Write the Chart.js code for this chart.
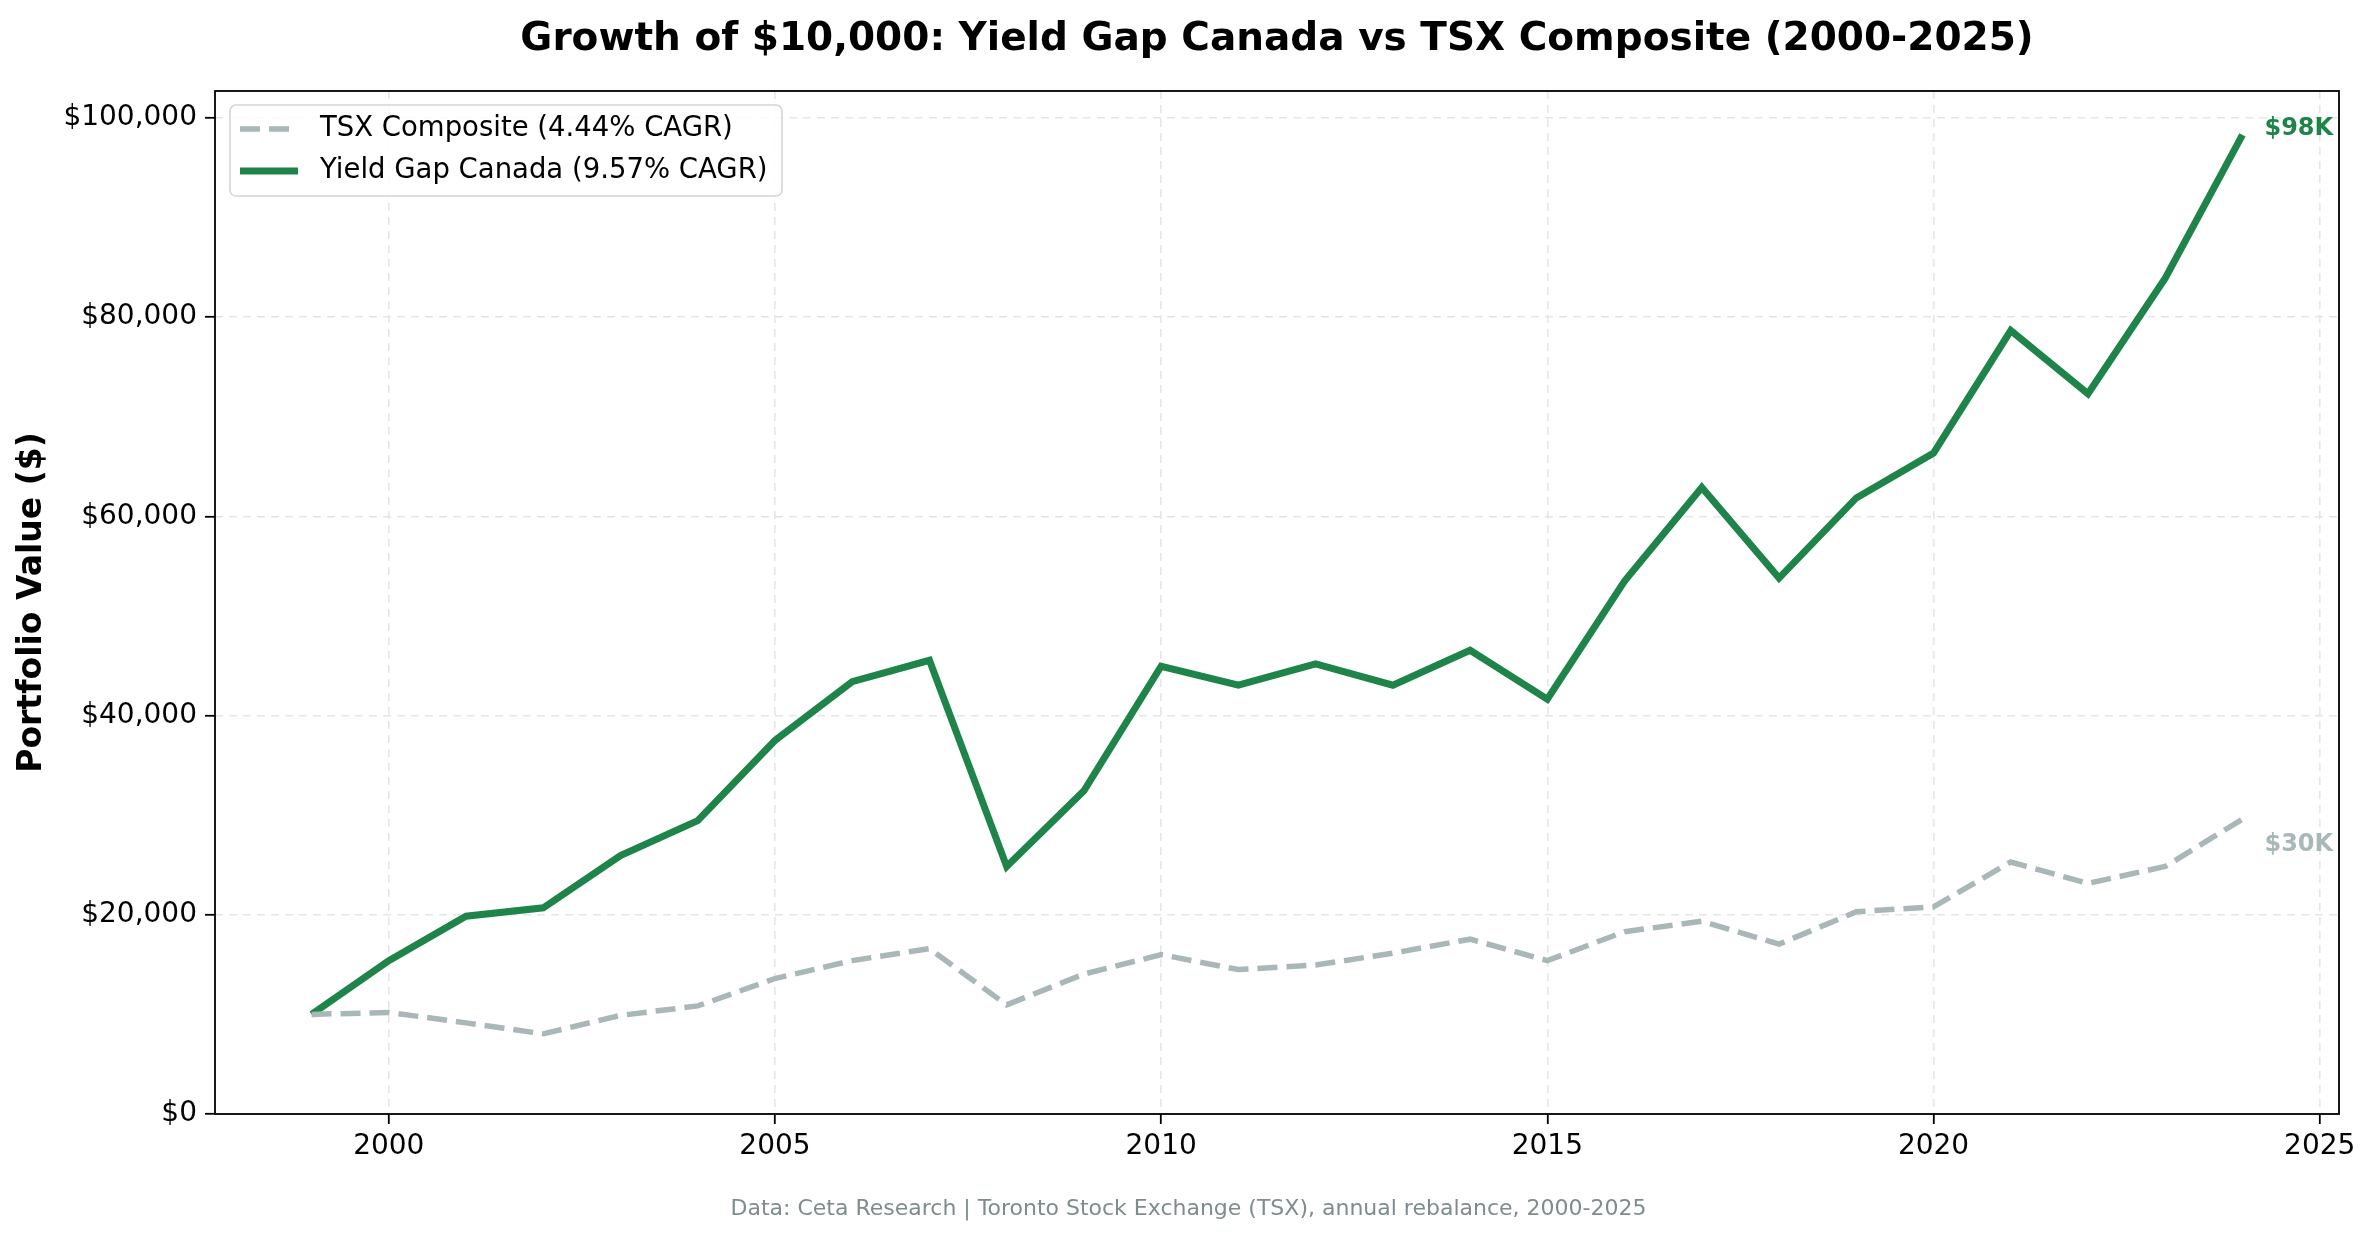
<!DOCTYPE html>
<html>
<head>
<meta charset="utf-8">
<script src="https://cdn.jsdelivr.net/npm/chart.js@4/dist/chart.umd.min.js"></script>
<style>
  html, body { margin: 0; padding: 0; background: #fff; }
  canvas { display: block; }
</style>
</head>
<body>
<canvas id="growthChart" width="2377" height="1239"></canvas>
<script>
// values
const years = [1999, 2000, 2001, 2002, 2003, 2004, 2005, 2006, 2007, 2008, 2009, 2010, 2011,
  2012, 2013, 2014, 2015, 2016, 2017, 2018, 2019, 2020, 2021, 2022, 2023, 2024];
const yieldGap = [10000, 15400, 19850, 20700, 25950, 29450, 37500, 43400, 45550, 24850, 32450, 44950,
  43050, 45200, 43050, 46550, 41650, 53500, 62900, 53800, 61850, 66350, 78650, 72300, 83900, 98300];
const tsx = [10000, 10200, 9150, 8050, 9900, 10850, 13600, 15400, 16600, 10950, 14050, 16000,
  14500, 14950, 16150, 17550, 15400, 18300, 19350, 17050, 20300, 20800, 25300, 23150, 24850, 29600];
const seriesLabels = ['TSX Composite (4.44% CAGR)', 'Yield Gap Canada (9.57% CAGR)'];
const endLabels = ['$30K', '$98K'];
const xTicks = [2000, 2005, 2010, 2015, 2020, 2025];
const yTicks = [0, 20000, 40000, 60000, 80000, 100000];

const GREEN = '#1e8449';
const GREY = '#aab7b8';
const FONT = "'DejaVu Sans', sans-serif";

const toPoints = vals => vals.map((v, i) => ({ x: years[i], y: v }));

// title, footer, frame, legend box and end labels
const decor = {
  id: 'decor',
  afterDraw(chart) {
    const { ctx, chartArea: a } = chart;
    ctx.save();

    ctx.fillStyle = '#000';
    ctx.font = `bold 39px ${FONT}`;
    ctx.textAlign = 'center';
    ctx.textBaseline = 'middle';
    ctx.fillText('Growth of $10,000: Yield Gap Canada vs TSX Composite (2000-2025)', (a.left + a.right) / 2, 40);

    ctx.fillStyle = '#7f8c8d';
    ctx.font = `22px ${FONT}`;
    ctx.fillText('Data: Ceta Research | Toronto Stock Exchange (TSX), annual rebalance, 2000-2025', chart.width / 2, 1209);

    ctx.strokeStyle = '#000';
    ctx.lineWidth = 1.8;
    ctx.strokeRect(a.left, a.top, a.right - a.left, a.bottom - a.top);

    // end-of-line value labels
    ctx.font = `bold 24px ${FONT}`;
    ctx.textAlign = 'left';
    const xs = chart.scales.x, ys = chart.scales.y;
    const last = years.length - 1;
    const offs = [26, -6];
    chart.data.datasets.forEach((ds, i) => {
      const px = xs.getPixelForValue(years[last]) + 22;
      const py = ys.getPixelForValue(ds.data[last].y) + offs[i];
      ctx.fillStyle = ds.borderColor;
      ctx.fillText(endLabels[i], px, py);
    });

    // legend
    const bx = a.left + 15, by = a.top + 14, bw = 552, bh = 91;
    ctx.beginPath();
    ctx.roundRect(bx, by, bw, bh, 6);
    ctx.fillStyle = 'rgba(255,255,255,0.85)';
    ctx.fill();
    ctx.strokeStyle = '#d5d5d5';
    ctx.lineWidth = 1.6;
    ctx.stroke();
    ctx.font = `27.5px ${FONT}`;
    ctx.textBaseline = 'middle';
    chart.data.datasets.forEach((ds, i) => {
      const ly = by + 24 + i * 42;
      ctx.beginPath();
      ctx.setLineDash(ds.borderDash || []);
      ctx.strokeStyle = ds.borderColor;
      ctx.lineWidth = ds.borderWidth;
      ctx.moveTo(bx + 10, ly);
      ctx.lineTo(bx + 68, ly);
      ctx.stroke();
      ctx.setLineDash([]);
      ctx.fillStyle = '#000';
      ctx.fillText(ds.label, bx + 90, ly);
    });

    ctx.restore();
  }
};

new Chart(document.getElementById('growthChart'), {
  type: 'line',
  data: {
    datasets: [
      {
        label: seriesLabels[0],
        data: toPoints(tsx),
        borderColor: GREY,
        borderWidth: 5.5,
        borderDash: [20, 9],
        pointRadius: 0,
        tension: 0,
        fill: false
      },
      {
        label: seriesLabels[1],
        data: toPoints(yieldGap),
        borderColor: GREEN,
        borderWidth: 7,
        pointRadius: 0,
        tension: 0,
        fill: false
      }
    ]
  },
  options: {
    responsive: false,
    animation: false,
    devicePixelRatio: 1,
    layout: { padding: { top: 91, right: 38, left: 0, bottom: 0 } },
    plugins: {
      legend: { display: false },
      title: { display: false },
      tooltip: { enabled: false }
    },
    scales: {
      x: {
        type: 'linear',
        min: 1997.75,
        max: 2025.25,
        afterFit: s => { s.height = 125; },
        afterBuildTicks: s => { s.ticks = xTicks.map(v => ({ value: v })); },
        grid: { color: '#e6e6e6', lineWidth: 1.6, tickColor: '#000', tickWidth: 1.8, tickLength: 10, tickBorderDash: [] },
        border: { display: false, dash: [8, 6] },
        ticks: {
          color: '#000',
          font: { family: FONT, size: 28 },
          padding: 6,
          maxRotation: 0,
          callback: v => String(v)
        }
      },
      y: {
        min: 0,
        max: 102700,
        afterFit: s => { s.width = 215; },
        afterBuildTicks: s => { s.ticks = yTicks.map(v => ({ value: v })); },
        grid: { color: '#e6e6e6', lineWidth: 1.6, tickColor: '#000', tickWidth: 1.8, tickLength: 10, tickBorderDash: [] },
        border: { display: false, dash: [8, 6] },
        ticks: {
          color: '#000',
          font: { family: FONT, size: 28 },
          padding: 8,
          callback: v => '$' + v.toLocaleString('en-US')
        },
        title: {
          display: true,
          text: 'Portfolio Value ($)',
          color: '#000',
          font: { family: FONT, size: 33, weight: 'bold' },
          padding: { top: 13, bottom: 0 }
        }
      }
    }
  },
  plugins: [decor]
});
</script>
</body>
</html>
